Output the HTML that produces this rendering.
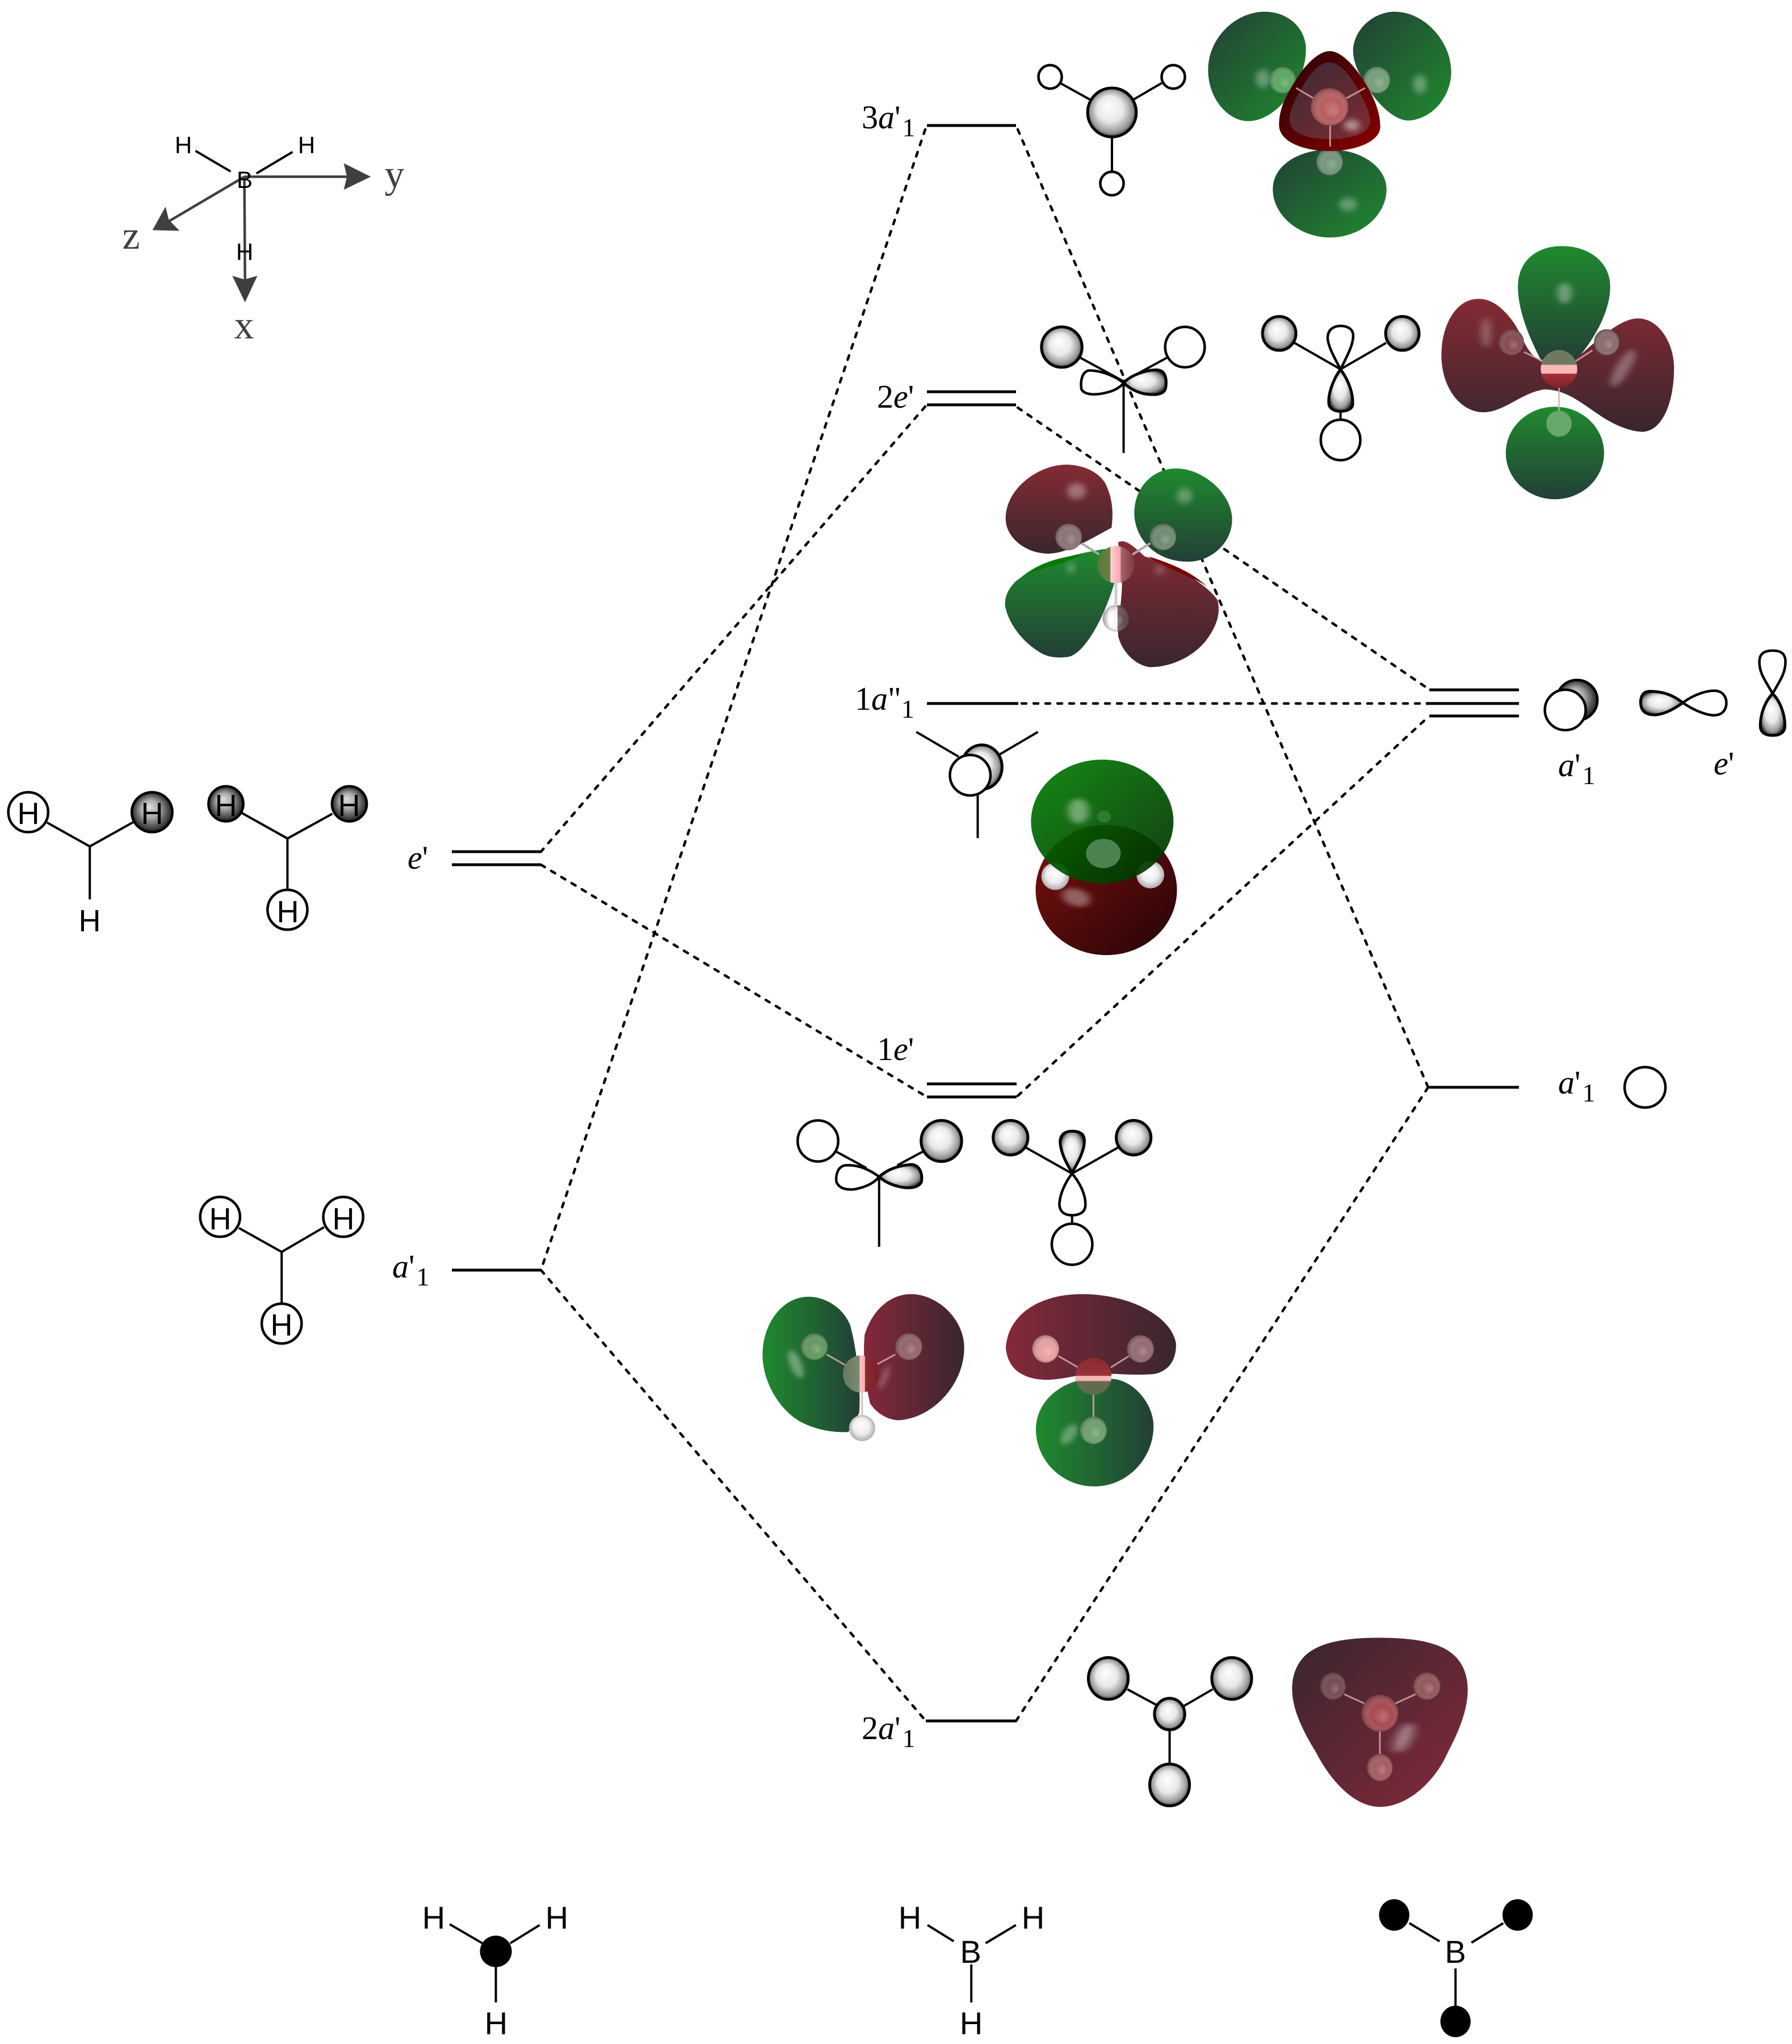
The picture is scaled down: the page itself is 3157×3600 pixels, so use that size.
<!DOCTYPE html>
<html>
<head>
<meta charset="utf-8">
<title>BH3 molecular orbital diagram</title>
<style>
html,body{margin:0;padding:0;background:#fff}
svg{display:block}
svg *{vector-effect:non-scaling-stroke}
.lv{stroke:#000;stroke-width:5;fill:none}
.da{stroke:#000;stroke-width:4.5;fill:none;stroke-dasharray:8 13;stroke-linecap:round}
.b{stroke:#000;stroke-width:4;fill:none}
.o{stroke:#000;stroke-width:4.5;fill:#fff}
.s{stroke:#000;stroke-width:5;fill:url(#ball)}
.d{stroke:#000;stroke-width:4.5;fill:url(#dark)}
.f{fill:#000}
.t{font-family:"Liberation Serif",serif;font-size:58px;fill:#000}
.t tspan.i{font-style:italic}
.t tspan.u{font-size:46px}
.h{font-family:"Liberation Sans",sans-serif;fill:#000;text-anchor:middle}
.ax{font-family:"Liberation Serif",serif;font-size:70px;fill:#3f3f3f;text-anchor:middle}
.hl{fill:#fff;filter:url(#bl)}
.hm{fill:#fff;filter:url(#bm)}
.bd{stroke:#d8b0b0;stroke-width:3;fill:none;opacity:.8}
.sh{fill:url(#at)}
</style>
</head>
<body>
<svg xmlns="http://www.w3.org/2000/svg" width="3157" height="3600" viewBox="0 0 3157 3600">
<defs>
<radialGradient id="ball" cx=".5" cy=".5" r=".53" fx=".42" fy=".36"><stop offset="0" stop-color="#fff"/><stop offset=".5" stop-color="#e8e8e8"/><stop offset=".82" stop-color="#999"/><stop offset="1" stop-color="#333"/></radialGradient>
<radialGradient id="dark" cx=".5" cy=".5" r=".55" fx=".42" fy=".36"><stop offset="0" stop-color="#ddd"/><stop offset=".4" stop-color="#aaa"/><stop offset=".85" stop-color="#333"/><stop offset="1" stop-color="#000"/></radialGradient>
<radialGradient id="wh" cx=".5" cy=".5" r=".55" fx=".45" fy=".35"><stop offset="0" stop-color="#fff"/><stop offset=".55" stop-color="#eee"/><stop offset="1" stop-color="#a0a0a0"/></radialGradient>
<radialGradient id="at" cx=".5" cy=".5" r=".55" fx=".62" fy=".62"><stop offset="0" stop-color="#fff" stop-opacity=".22"/><stop offset=".5" stop-color="#fff" stop-opacity="0"/><stop offset="1" stop-color="#000" stop-opacity=".4"/></radialGradient>
<linearGradient id="g1" x1="0" y1="0" x2="1" y2="1"><stop offset="0" stop-color="#223f36"/><stop offset="1" stop-color="#1f8a2e"/></linearGradient>
<linearGradient id="g2" x1="0" y1="0" x2="0" y2="1"><stop offset="0" stop-color="#1f8a2e"/><stop offset="1" stop-color="#223f36"/></linearGradient>
<linearGradient id="g3" x1="0" y1="0" x2="1" y2="0"><stop offset="0" stop-color="#1f8a2e"/><stop offset="1" stop-color="#223f36"/></linearGradient>
<linearGradient id="r1" x1="0" y1="0" x2="0" y2="1"><stop offset="0" stop-color="#852a33"/><stop offset="1" stop-color="#39262e"/></linearGradient>
<linearGradient id="r2" x1="0" y1="0" x2="1" y2="0"><stop offset="0" stop-color="#85283a"/><stop offset="1" stop-color="#39262e"/></linearGradient>
<linearGradient id="r3" x1="0" y1="0" x2="1" y2="1"><stop offset="0" stop-color="#39262e"/><stop offset="1" stop-color="#85283a"/></linearGradient>
<linearGradient id="r5" x1=".1" y1="0" x2=".9" y2="1"><stop offset="0" stop-color="#3d2a35"/><stop offset="1" stop-color="#7c2a30"/></linearGradient>
<linearGradient id="rim" x1="0" y1="0" x2="1" y2="1"><stop offset="0" stop-color="#280005"/><stop offset="1" stop-color="#880000"/></linearGradient>
<linearGradient id="r4" x1="0" y1="0" x2="1" y2="1"><stop offset="0" stop-color="#7e1010"/><stop offset="1" stop-color="#250406"/></linearGradient>
<linearGradient id="g4" x1="0" y1="0" x2="1" y2="1"><stop offset="0" stop-color="#008000"/><stop offset="1" stop-color="#002c00"/></linearGradient>
<linearGradient id="cB1" x1="0" y1="0" x2="0" y2="1"><stop offset="0" stop-color="#6e7a60"/><stop offset=".38" stop-color="#6e7a60"/><stop offset=".4" stop-color="#f8b8b8"/><stop offset=".62" stop-color="#f8b8b8"/><stop offset=".63" stop-color="#a83038"/><stop offset="1" stop-color="#7a2028"/></linearGradient>
<linearGradient id="cB2" x1="0" y1="0" x2="1" y2="0"><stop offset="0" stop-color="#567a3c"/><stop offset=".34" stop-color="#6a8040"/><stop offset=".36" stop-color="#fcd0d4"/><stop offset=".62" stop-color="#f0a8ae"/><stop offset=".64" stop-color="#a86268"/><stop offset="1" stop-color="#7a3a40"/></linearGradient>
<linearGradient id="cB4" x1="0" y1="0" x2="1" y2="0"><stop offset="0" stop-color="#6a7a60"/><stop offset=".45" stop-color="#7a8a70"/><stop offset=".47" stop-color="#f8c0c0"/><stop offset=".6" stop-color="#f8b0b0"/><stop offset=".62" stop-color="#8a2a30"/><stop offset="1" stop-color="#7a2028"/></linearGradient>
<linearGradient id="cB3" x1="0" y1="0" x2="0" y2="1"><stop offset="0" stop-color="#8a2a30"/><stop offset=".48" stop-color="#96343c"/><stop offset=".5" stop-color="#f8c0c0"/><stop offset=".62" stop-color="#f0b0b0"/><stop offset=".64" stop-color="#6a6a50"/><stop offset="1" stop-color="#5a6a50"/></linearGradient>
<linearGradient id="hH" x1="0" y1="0" x2="1" y2="0"><stop offset="0" stop-color="#c8c8c8"/><stop offset=".25" stop-color="#fff"/><stop offset=".55" stop-color="#f4f4f4"/><stop offset=".57" stop-color="#7a5c60"/><stop offset="1" stop-color="#4a3a3e"/></linearGradient>
<filter id="bl" x="-100%" y="-100%" width="300%" height="300%"><feGaussianBlur stdDeviation="7"/></filter>
<filter id="bm" x="-100%" y="-100%" width="300%" height="300%"><feGaussianBlur stdDeviation="16"/></filter>
</defs>

<!-- dashed connectors -->
<g class="da">
<line x1="1630" y1="228" x2="953" y2="2237"/>
<line x1="1793" y1="228" x2="2516" y2="1915"/>
<line x1="1630" y1="716" x2="953" y2="1500"/>
<line x1="1793" y1="718" x2="2516" y2="1213"/>
<line x1="1800" y1="1239" x2="2518" y2="1239"/>
<line x1="953" y1="1523" x2="1633" y2="1932"/>
<line x1="1793" y1="1930" x2="2518" y2="1261"/>
<line x1="953" y1="2237" x2="1631" y2="3031"/>
<line x1="1790" y1="3031" x2="2516" y2="1915"/>
</g>

<!-- energy levels -->
<g class="lv">
<line x1="1633" y1="221" x2="1790" y2="221"/>
<line x1="1633" y1="690" x2="1790" y2="690"/>
<line x1="1633" y1="713" x2="1790" y2="713"/>
<line x1="1633" y1="1239" x2="1794" y2="1239"/>
<line x1="2518" y1="1215" x2="2676" y2="1215"/>
<line x1="2512" y1="1239" x2="2676" y2="1239"/>
<line x1="2518" y1="1261" x2="2676" y2="1261"/>
<line x1="2518" y1="1915" x2="2676" y2="1915"/>
<line x1="1633" y1="1909" x2="1791" y2="1909"/>
<line x1="1633" y1="1932" x2="1791" y2="1932"/>
<line x1="796" y1="1500" x2="953" y2="1500"/>
<line x1="796" y1="1523" x2="953" y2="1523"/>
<line x1="796" y1="2237" x2="953" y2="2237"/>
<line x1="1631" y1="3031" x2="1790" y2="3031"/>
</g>

<!-- level labels -->
<text class="t" x="1518" y="226">3<tspan class="i">a</tspan>'<tspan class="u" dx="3" dy="14">1</tspan></text>
<text class="t" x="1545" y="718">2<tspan class="i">e</tspan>'</text>
<text class="t" x="1506" y="1250">1<tspan class="i">a</tspan>"<tspan class="u" dy="14">1</tspan></text>
<text class="t" x="1545" y="1867">1<tspan class="i">e</tspan>'</text>
<text class="t" x="1518" y="3063">2<tspan class="i">a</tspan>'<tspan class="u" dx="3" dy="14">1</tspan></text>
<text class="t" x="718" y="1530"><tspan class="i">e</tspan>'</text>
<text class="t" x="691" y="2250"><tspan class="i">a</tspan>'<tspan class="u" dx="3" dy="14">1</tspan></text>
<text class="t" x="2745" y="1367"><tspan class="i">a</tspan>'<tspan class="u" dx="3" dy="14">1</tspan></text>
<text class="t" x="3019" y="1364"><tspan class="i">e</tspan>'</text>
<text class="t" x="2745" y="1926"><tspan class="i">a</tspan>'<tspan class="u" dx="3" dy="14">1</tspan></text>

<!-- axes (Z3 coords) -->
<g transform="translate(0,100) scale(.574,.3827)">
<line class="b" x1="600" y1="433" x2="708" y2="528"/>
<line class="b" x1="898" y1="438" x2="787" y2="537"/>
<g stroke="#3f3f3f" stroke-width="4.5" fill="none">
<line x1="750" y1="552" x2="1075" y2="552"/>
<line x1="750" y1="552" x2="752" y2="1030"/>
<line x1="750" y1="552" x2="515" y2="760"/>
</g>
<polygon fill="#3f3f3f" points="1138,552 1055,490 1065,552 1055,612"/>
<polygon fill="#3f3f3f" points="752,1130 713,1008 750,1025 790,1008"/>
<polygon fill="#3f3f3f" points="468,798 508,690 518,750 551,801"/>
</g>
<text class="h" font-size="42" x="323" y="270">H</text>
<text class="h" font-size="42" x="540" y="270">H</text>
<text class="h" font-size="42" x="431" y="331">B</text>
<text class="h" font-size="42" x="431" y="458">H</text>
<text class="ax" x="695" y="330">y</text>
<text class="ax" x="231" y="438">z</text>
<text class="ax" x="430" y="596">x</text>

<!-- left fragments (Z4 coords) -->
<g transform="translate(0,1300) scale(.6378,.7015)">
<path class="b" d="M130,212 L248,272 L370,210 M248,272 V405"/>
<ellipse class="o" cx="78" cy="186" rx="55" ry="50"/>
<ellipse class="d" cx="420" cy="186" rx="56" ry="50"/>
<path class="b" d="M668,188 L794,252 L918,190 M794,252 V385"/>
<ellipse class="d" cx="624" cy="165" rx="48" ry="44"/>
<ellipse class="d" cx="965" cy="165" rx="48" ry="44"/>
<ellipse class="o" cx="794" cy="431" rx="55" ry="50"/>
<path class="b" d="M660,1230 L778,1290 L895,1228 M778,1290 V1420"/>
<ellipse class="o" cx="608" cy="1202" rx="55" ry="50"/>
<ellipse class="o" cx="948" cy="1202" rx="55" ry="50"/>
<ellipse class="o" cx="778" cy="1470" rx="55" ry="50"/>
</g>
<g class="h" font-size="54">
<text x="50" y="1451">H</text>
<text x="268" y="1451">H</text>
<text x="158" y="1640">H</text>
<text x="398" y="1437">H</text>
<text x="615" y="1437">H</text>
<text x="507" y="1624">H</text>
<text x="388" y="2165">H</text>
<text x="605" y="2165">H</text>
<text x="496" y="2352">H</text>
</g>

<!-- 3a'1 MO (native 3x crop coords) -->
<g transform="translate(2110,10) scale(.3333)">
<path fill="url(#g1)" d="M355,32 C200,32 55,170 55,340 C55,490 160,610 265,610 C380,610 480,500 530,400 C565,330 573,270 572,220 C565,110 470,32 355,32Z"/>
<path fill="url(#g1)" d="M1040,32 C950,32 840,100 822,220 C815,300 860,370 890,420 C950,520 1040,607 1115,607 C1240,600 1340,480 1340,350 C1340,190 1200,32 1040,32Z"/>
<path fill="url(#g1)" d="M700,760 C540,760 397,840 397,970 C397,1110 540,1225 700,1225 C860,1225 998,1110 998,970 C998,850 860,760 700,760Z"/>
<ellipse class="hm" opacity=".32" cx="345" cy="385" rx="38" ry="48"/>
<ellipse class="hm" opacity=".32" cx="1175" cy="415" rx="36" ry="48"/>
<ellipse class="hm" opacity=".32" cx="795" cy="1050" rx="48" ry="34"/>
<circle fill="#5aa862" cx="449" cy="393" r="70"/><circle class="sh" cx="449" cy="393" r="70"/>
<circle fill="#74a07a" cx="947" cy="393" r="70"/><circle class="sh" cx="947" cy="393" r="70"/>
<circle fill="#74967a" cx="697" cy="826" r="70"/><circle class="sh" cx="697" cy="826" r="70"/>
<path fill="url(#rim)" d="M698,240 C760,240 830,320 880,400 C930,480 965,560 965,640 C965,720 830,768 698,768 C560,768 430,720 430,630 C430,540 470,470 520,390 C570,310 640,240 698,240Z"/>
<path fill="url(#r5)" d="M698,300 C750,300 800,360 840,430 C880,500 912,560 912,610 C912,680 800,705 698,705 C590,705 485,680 485,600 C485,540 530,470 570,400 C610,340 650,300 698,300Z"/>
<ellipse class="hm" opacity=".5" cx="815" cy="632" rx="42" ry="28"/>
<path stroke="#c89090" stroke-width="3" fill="none" d="M520,435 L610,488 M885,435 L785,490 M700,635 V745"/>
<circle fill="#b85c5e" cx="697" cy="535" r="99"/><circle class="sh" cx="697" cy="535" r="99"/>
</g>

<!-- 2e' MO left (native 3x crop coords) -->
<g transform="translate(1750,800) scale(.3333)">
<path fill="url(#r1)" d="M385,55 C240,55 65,180 65,340 C65,440 170,525 290,525 C390,525 510,450 625,388 C635,300 630,230 590,150 C550,90 470,55 385,55Z"/>
<path fill="url(#g2)" d="M965,75 C850,75 745,170 745,310 C745,440 850,568 1030,568 C1150,568 1262,470 1262,345 C1262,210 1110,75 965,75Z"/>
<path fill="url(#g2)" d="M590,500 C450,525 260,560 120,670 C70,720 60,760 62,800 C80,900 160,1000 260,1055 C300,1075 350,1078 400,1070 C480,1050 580,880 640,680 L600,520Z"/>
<path fill="#067a06" d="M150,648 C220,590 320,545 470,530 C400,570 280,595 150,648Z"/>
<path fill="url(#r1)" d="M660,465 C690,450 720,465 800,540 C950,580 1120,680 1185,770 C1200,830 1190,900 1120,990 C1040,1085 920,1125 830,1125 C760,1120 680,1050 660,960 C655,900 680,780 680,680Z"/>
<path fill="#7a0505" d="M820,540 C950,580 1060,630 1130,700 C1050,640 930,620 820,540Z"/>
<ellipse class="hm" opacity=".35" cx="440" cy="195" rx="50" ry="42"/>
<ellipse class="hm" opacity=".3" cx="1010" cy="220" rx="40" ry="40"/>
<ellipse class="hm" opacity=".28" cx="410" cy="600" rx="20" ry="30"/>
<ellipse class="hm" opacity=".22" cx="880" cy="610" rx="28" ry="24"/>
<path stroke="#aaa" stroke-width="4" fill="none" d="M465,470 L560,530 M735,530 L830,470"/>
<path stroke="#ccc" stroke-width="5" fill="none" d="M648,680 V795"/>
<circle fill="#8a7275" cx="398" cy="437" r="70"/><circle class="sh" cx="398" cy="437" r="70"/>
<circle fill="#6f8a70" cx="897" cy="437" r="70"/><circle class="sh" cx="897" cy="437" r="70"/>
<circle fill="url(#cB2)" cx="648" cy="583" r="98"/>
<circle fill="url(#hH)" cx="648" cy="867" r="70"/><circle class="sh" cx="648" cy="867" r="70"/>
</g>

<!-- top region (Z1 coords) -->
<g transform="translate(1600,0) scale(.8929,.574)">
<!-- 3a'1 LCAO -->
<path class="b" d="M300,255 L358,305 M500,255 L445,305 M402,420 V525"/>
<ellipse class="s" cx="402" cy="345" rx="48" ry="75"/>
<ellipse class="o" cx="280" cy="236" rx="23" ry="36"/>
<ellipse class="o" cx="523" cy="236" rx="23" ry="36"/>
<ellipse class="o" cx="402" cy="563" rx="23" ry="36"/>
<!-- 2e' LCAO A -->
<path class="b" d="M340,1098 L425,1170 L510,1098 M425,1170 V1390"/>
<path class="o" d="M425,1175 C405,1150 375,1135 355,1137 C340,1145 340,1180 342,1195 C350,1215 375,1212 395,1203 C410,1197 420,1185 425,1175Z"/>
<path class="s" d="M425,1175 C440,1150 470,1135 490,1135 C510,1135 510,1170 508,1190 C505,1215 480,1212 465,1208 C450,1203 435,1190 425,1175Z"/>
<ellipse class="s" cx="303" cy="1065" rx="40" ry="62"/>
<ellipse class="o" cx="546" cy="1065" rx="39" ry="62"/>
<!-- 2e' LCAO B -->
<path class="b" d="M762,1052 L853,1133 L943,1052 M853,1262 V1290"/>
<path class="o" d="M853,1133 C838,1090 825,1050 828,1030 C830,1005 845,1000 853,1000 C862,1000 878,1005 878,1030 C878,1060 865,1095 853,1133Z"/>
<path class="s" d="M853,1133 C838,1165 828,1210 830,1240 C832,1258 845,1262 853,1262 C862,1262 876,1258 877,1240 C878,1205 868,1165 853,1133Z"/>
<ellipse class="s" cx="732" cy="1023" rx="33" ry="52"/>
<ellipse class="s" cx="975" cy="1023" rx="33" ry="52"/>
<ellipse class="o" cx="853" cy="1350" rx="39" ry="62"/>
<!-- 2e' MO right -->
<path fill="url(#g2)" d="M1290,755 C1240,755 1203,800 1203,880 C1203,960 1230,1050 1250,1110 L1315,1110 C1350,1050 1385,960 1385,880 C1385,800 1340,755 1290,755Z"/>
<ellipse class="hl" opacity=".35" cx="1295" cy="900" rx="14" ry="32"/>
<path fill="url(#r1)" d="M1125,917 C1080,917 1052,1000 1052,1090 C1052,1190 1090,1265 1135,1265 C1175,1265 1210,1205 1255,1195 C1300,1195 1330,1240 1370,1280 C1400,1310 1430,1325 1450,1325 C1490,1320 1511,1230 1511,1130 C1511,1050 1480,977 1440,977 C1400,977 1350,1060 1310,1110 C1295,1125 1270,1130 1250,1110 C1215,1080 1215,1030 1190,980 C1170,940 1150,917 1125,917Z"/>
<ellipse class="hl" opacity=".25" cx="1140" cy="1020" rx="10" ry="45"/>
<ellipse class="hl" opacity=".3" cx="1410" cy="1130" rx="14" ry="60" transform="rotate(20 1410 1130)"/>
<ellipse fill="url(#g2)" cx="1276" cy="1390" rx="97" ry="142"/>
<path class="bd" d="M1215,1080 L1255,1110 M1350,1075 L1315,1110 M1284,1190 V1260"/>
<ellipse fill="#864a50" cx="1190" cy="1050" rx="25" ry="40"/><ellipse class="sh" cx="1190" cy="1050" rx="25" ry="40"/>
<ellipse fill="#8a6a6c" cx="1378" cy="1050" rx="25" ry="40"/><ellipse class="sh" cx="1378" cy="1050" rx="25" ry="40"/>
<ellipse fill="url(#cB1)" cx="1284" cy="1132" rx="36" ry="58"/>
<ellipse fill="#66a86a" cx="1284" cy="1300" rx="25" ry="40"/>
</g>

<!-- middle region (Z2 coords) -->
<g transform="translate(1500,800) scale(1.0204,.574)">
<!-- 1a"1 LCAO -->
<path class="b" d="M112,852 L185,928 M322,852 L255,922 M218,1045 V1178"/>
<ellipse class="s" cx="225" cy="960" rx="35" ry="68"/>
<ellipse class="o" cx="205" cy="985" rx="35" ry="62"/>
<!-- 1a"1 MO -->
<ellipse fill="url(#r4)" cx="440" cy="1337" rx="122" ry="200"/>
<ellipse class="hl" opacity=".35" cx="388" cy="1360" rx="22" ry="30" transform="rotate(-30 388 1360)"/>
<ellipse fill="url(#wh)" cx="352" cy="1295" rx="24" ry="42"/>
<ellipse fill="url(#wh)" cx="516" cy="1290" rx="24" ry="42"/>
<ellipse fill="url(#g4)" opacity=".92" cx="433" cy="1127" rx="123" ry="190"/>
<ellipse class="hl" opacity=".4" cx="392" cy="1095" rx="18" ry="38"/>
<ellipse fill="#2f7a30" cx="436" cy="1112" rx="12" ry="18"/>
<ellipse fill="#4a8250" cx="435" cy="1225" rx="30" ry="45"/>
</g>

<!-- right atomic orbitals (Z7 coords) -->
<g transform="translate(2650,1100) scale(.333,.574)">
<ellipse class="d" cx="385" cy="232" rx="108" ry="62"/>
<ellipse class="o" cx="323" cy="262" rx="108" ry="62"/>
<path class="s" d="M945,240 C880,210 820,205 770,205 C730,205 720,225 722,242 C725,270 760,278 800,277 C850,275 900,258 945,240Z"/>
<path class="o" d="M945,240 C1000,215 1070,203 1110,203 C1160,203 1178,225 1175,245 C1170,270 1140,280 1100,278 C1050,275 990,258 945,240Z"/>
<path class="o" d="M1420,212 C1380,170 1350,150 1350,115 C1350,85 1385,80 1420,80 C1455,80 1488,85 1488,115 C1488,150 1455,175 1420,212Z"/>
<path class="s" d="M1420,212 C1380,235 1355,275 1355,310 C1355,335 1390,340 1420,340 C1450,340 1485,335 1485,310 C1485,275 1460,235 1420,212Z"/>
<ellipse class="o" cx="745" cy="1420" rx="108" ry="62"/>
</g>

<!-- 1e' (Z5 coords) -->
<g transform="translate(1300,1800) scale(.6378,.574)">
<path class="b" d="M272,398 L355,448 M510,398 L440,440 M390,475 V690"/>
<path class="o" d="M390,475 C355,445 320,437 295,440 C275,445 270,470 272,490 C280,515 310,518 335,510 C360,503 380,490 390,475Z"/>
<path class="s" d="M390,475 C410,455 440,440 480,437 C505,440 510,470 507,490 C500,510 470,512 445,505 C425,500 405,490 390,475Z"/>
<ellipse class="o" cx="221" cy="365" rx="56" ry="63"/>
<ellipse class="s" cx="562" cy="365" rx="56" ry="63"/>
<path class="b" d="M795,385 L923,465 L1050,385 M923,593 V620"/>
<path class="s" d="M923,462 C905,430 890,395 890,365 C892,340 910,335 923,335 C940,335 957,340 957,365 C957,395 940,430 923,462Z"/>
<path class="o" d="M923,465 C905,490 888,530 888,562 C890,585 905,593 923,593 C942,593 960,585 960,560 C960,525 942,490 923,465Z"/>
<ellipse class="s" cx="753" cy="355" rx="48" ry="53"/>
<ellipse class="s" cx="1093" cy="355" rx="48" ry="53"/>
<ellipse class="o" cx="923" cy="682" rx="56" ry="63"/>
<!-- MO left -->
<path fill="url(#g3)" d="M195,843 C120,843 68,930 68,1020 C68,1100 110,1185 170,1225 C220,1255 270,1260 305,1258 L335,1200 C340,1130 330,1010 310,930 C290,875 240,843 195,843Z"/>
<path fill="url(#r2)" d="M478,835 C420,835 370,885 350,960 C345,1020 350,1100 365,1170 C385,1205 420,1222 445,1222 C540,1215 625,1110 625,1000 C625,910 550,835 478,835Z"/>
<ellipse class="hl" opacity=".35" cx="160" cy="1050" rx="16" ry="45" transform="rotate(-20 160 1050)"/>
<ellipse class="hl" opacity=".22" cx="405" cy="1090" rx="9" ry="38" transform="rotate(20 405 1090)"/>
<path class="bd" d="M245,1020 L300,1055 M435,1020 L385,1050 M343,1130 V1210"/>
<ellipse fill="#62985f" cx="211" cy="996" rx="37" ry="41"/><ellipse class="sh" cx="211" cy="996" rx="37" ry="41"/>
<ellipse fill="#946468" cx="472" cy="996" rx="37" ry="41"/><ellipse class="sh" cx="472" cy="996" rx="37" ry="41"/>
<ellipse fill="url(#cB4)" cx="340" cy="1080" rx="50" ry="57"/>
<ellipse fill="url(#wh)" cx="343" cy="1246" rx="36" ry="40"/>
<!-- MO right -->
<path fill="url(#r2)" d="M950,835 C830,835 745,900 740,1000 C745,1060 780,1095 850,1098 C900,1098 940,1080 1000,1078 C1060,1080 1100,1085 1150,1080 C1195,1070 1212,1030 1210,985 C1195,900 1080,835 950,835Z"/>
<path fill="url(#g3)" d="M980,1095 C900,1095 823,1160 823,1250 C823,1340 890,1425 985,1425 C1075,1425 1148,1340 1148,1240 C1148,1170 1090,1095 1030,1095Z"/>
<ellipse class="hl" opacity=".3" cx="915" cy="1265" rx="18" ry="34" transform="rotate(30 915 1265)"/>
<path class="bd" d="M885,1025 L940,1060 M1080,1025 L1030,1060 M982,1140 V1215"/>
<ellipse fill="#e8a0a0" cx="850" cy="1003" rx="37" ry="42"/><ellipse class="sh" cx="850" cy="1003" rx="37" ry="42"/>
<ellipse fill="#936a70" cx="1112" cy="1003" rx="37" ry="42"/><ellipse class="sh" cx="1112" cy="1003" rx="37" ry="42"/>
<ellipse fill="url(#cB3)" cx="982" cy="1087" rx="50" ry="57"/>
<ellipse fill="#6da06f" cx="982" cy="1253" rx="37" ry="42"/><ellipse class="sh" cx="982" cy="1253" rx="37" ry="42"/>
</g>

<!-- 2a'1 and bottom row (Z6 coords) -->
<g transform="translate(600,2850) scale(1.403,.4783)">
<path class="b" d="M988,262 L1028,325 M1095,262 L1058,325 M1041,410 V540"/>
<ellipse class="s" cx="1041" cy="353" rx="19" ry="58"/>
<ellipse class="s" cx="964" cy="222" rx="25" ry="77"/>
<ellipse class="s" cx="1119" cy="222" rx="25" ry="77"/>
<ellipse class="s" cx="1041" cy="614" rx="25" ry="77"/>
<path fill="url(#r3)" d="M1305,72 C1240,72 1208,110 1198,200 C1188,290 1203,390 1224,490 C1245,610 1275,695 1305,695 C1340,695 1375,600 1391,490 C1411,380 1421,280 1412,200 C1402,110 1370,72 1305,72Z"/>
<ellipse class="hl" opacity=".45" cx="1335" cy="440" rx="9" ry="55" transform="rotate(8 1335 440)"/>
<path class="bd" d="M1260,280 L1290,320 M1350,280 L1320,320 M1305,415 V500"/>
<ellipse fill="#74494f" cx="1246" cy="250" rx="16" ry="50"/><ellipse class="sh" cx="1246" cy="250" rx="16" ry="50"/>
<ellipse fill="#94555a" cx="1364" cy="250" rx="17" ry="50"/><ellipse class="sh" cx="1364" cy="250" rx="17" ry="50"/>
<ellipse fill="#a84850" cx="1305" cy="350" rx="23" ry="68"/><ellipse class="sh" cx="1305" cy="350" rx="23" ry="68"/>
<ellipse fill="#a55a60" cx="1305" cy="550" rx="16" ry="50"/><ellipse class="sh" cx="1305" cy="550" rx="16" ry="50"/>
<!-- bottom -->
<path class="b" d="M137,1127 L178,1197 M250,1130 L213,1197 M195,1285 V1415"/>
<ellipse class="f" cx="195" cy="1227" rx="20" ry="58"/>
<path class="b" d="M737,1130 L770,1190 M848,1130 L810,1197 M792,1275 V1415"/>
<path class="b" d="M1342,1123 L1380,1190 M1460,1123 L1420,1195 M1400,1290 V1430"/>
<ellipse class="f" cx="1323" cy="1093" rx="19" ry="58"/>
<ellipse class="f" cx="1478" cy="1093" rx="19" ry="58"/>
<ellipse class="f" cx="1400" cy="1485" rx="19" ry="58"/>
</g>
<g class="h" font-size="56">
<text x="764" y="3397">H</text>
<text x="981" y="3397">H</text>
<text x="874" y="3583">H</text>
<text x="1603" y="3397">H</text>
<text x="1820" y="3397">H</text>
<text x="1710" y="3457">B</text>
<text x="1711" y="3583">H</text>
<text x="2564" y="3457">B</text>
</g>
</svg>
</body>
</html>
